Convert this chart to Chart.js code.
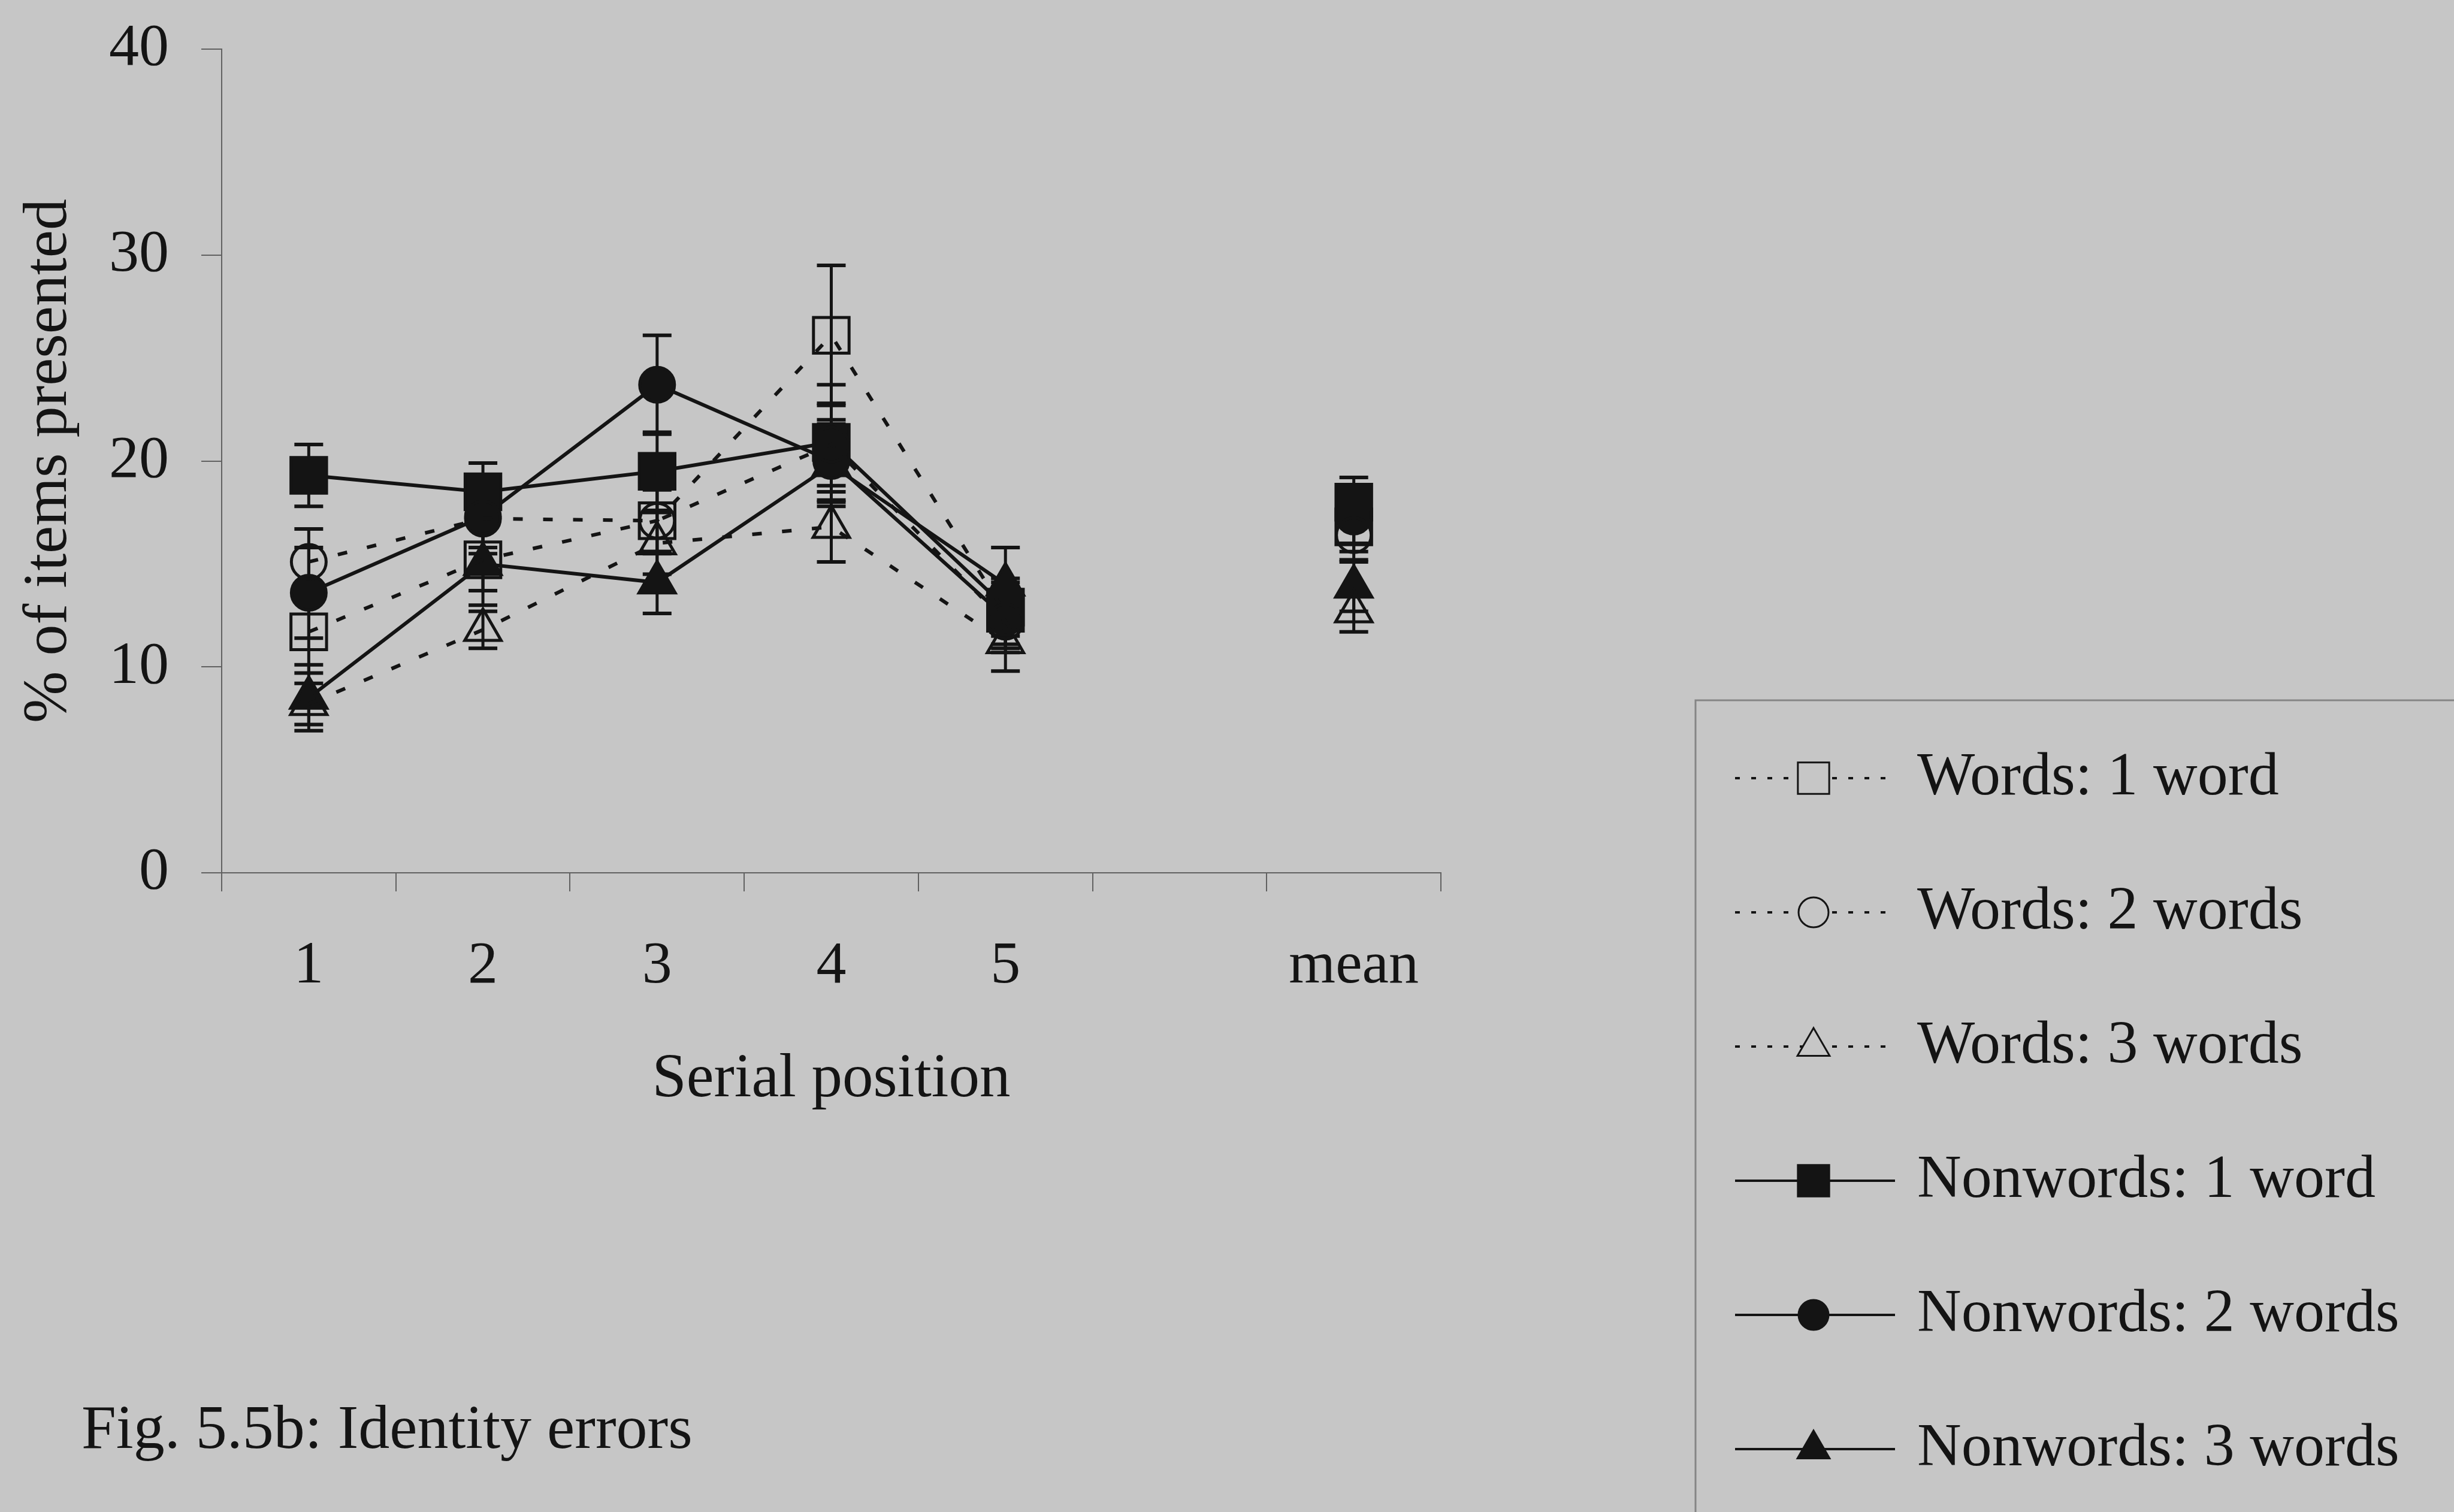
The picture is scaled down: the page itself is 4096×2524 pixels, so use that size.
<!DOCTYPE html>
<html>
<head>
<meta charset="utf-8">
<title>Identity errors</title>
<script src="https://cdn.jsdelivr.net/npm/chart.js@4.4.0/dist/chart.umd.min.js"></script>
<style>
  html, body { margin: 0; padding: 0; background: #c6c6c6; }
  #wrap { width: 4096px; height: 2524px; }
</style>
</head>
<body>
<div id="wrap"><canvas id="errorsChart" width="4096" height="2524"></canvas></div>
<script>
/* Fig. 5.5b – identity errors by serial position */

const positions = ["1", "2", "3", "4", "5", "", "mean"];
const yTicks = [0, 10, 20, 30, 40];

const words1 = [11.7, 15.2, 17.1, 26.1, 12.6, null, 16.8];
const words2 = [15.1, 17.2, 17.1, 20.8, 12.2, null, 16.4];
const words3 = [8.2, 11.8, 16.0, 16.8, 11.2, null, 12.7];
const nonwords1 = [19.3, 18.5, 19.5, 20.9, 12.9, null, 18.0];
const nonwords2 = [13.6, 17.3, 23.7, 20.0, 12.4, null, 17.3];
const nonwords3 = [8.5, 15.0, 14.1, 19.8, 14.0, null, 13.9];

const words1Err = [2.0, 1.5, 1.6, 3.4, 1.5, null, 1.2];
const words2Err = [1.6, 1.4, 1.5, 2.0, 1.5, null, 1.2];
const words3Err = [1.0, 0.9, 1.5, 1.7, 1.4, null, 1.0];
const nonwords1Err = [1.5, 1.4, 1.9, 2.8, 1.4, null, 1.2];
const nonwords2Err = [2.2, 1.8, 2.4, 2.0, 1.5, null, 1.3];
const nonwords3Err = [1.6, 2.0, 1.5, 2.0, 1.8, null, 1.2];

const ink = "#141414";
const axisGrey = "#616161";
const serif = "'Liberation Serif', 'Times New Roman', serif";

const series = (label, data, errors, pointStyle, radius, open) => ({
  label,
  data,
  errors,
  pointStyle,
  pointRadius: radius,
  pointHoverRadius: radius,
  pointBorderWidth: 5,
  pointBorderColor: ink,
  pointBackgroundColor: open ? "rgba(0,0,0,0)" : ink,
  borderColor: ink,
  borderWidth: 6,
  borderDash: open ? [16, 34] : [],
  tension: 0,
  spanGaps: false,
  fill: false,
  open,
});

// vertical error bars with caps, drawn under the markers
const errorBars = {
  id: "errorBars",
  beforeDatasetsDraw(chart) {
    const { ctx, scales: { x, y } } = chart;
    ctx.save();
    ctx.strokeStyle = ink;
    ctx.lineCap = "butt";
    chart.data.datasets.forEach((ds) => {
      ds.data.forEach((v, j) => {
        const e = ds.errors[j];
        if (v == null || e == null) return;
        const px = x.getPixelForValue(j);
        const top = y.getPixelForValue(v + e);
        const bot = y.getPixelForValue(v - e);
        ctx.lineWidth = 5;
        ctx.beginPath();
        ctx.moveTo(px, top);
        ctx.lineTo(px, bot);
        ctx.stroke();
        ctx.lineWidth = 6;
        ctx.beginPath();
        ctx.moveTo(px - 24, top);
        ctx.lineTo(px + 24, top);
        ctx.moveTo(px - 24, bot);
        ctx.lineTo(px + 24, bot);
        ctx.stroke();
      });
    });
    ctx.restore();
  },
};

// boxed legend at the lower right and the figure caption
const legendBox = {
  id: "legendBox",
  afterDraw(chart) {
    const { ctx } = chart;
    ctx.save();
    ctx.strokeStyle = "#858585";
    ctx.lineWidth = 3;
    ctx.strokeRect(2830, 1169, 1400, 1500);

    const rowY0 = 1299;
    const rowStep = 224;
    const markerSize = { rect: 37, circle: 25, triangle: 31 };
    chart.data.datasets.forEach((ds, i) => {
      const cy = rowY0 + i * rowStep;
      ctx.strokeStyle = ink;
      ctx.lineWidth = 4;
      ctx.setLineDash(ds.open ? [8, 19] : []);
      ctx.beginPath();
      ctx.moveTo(2896, cy);
      ctx.lineTo(3163, cy);
      ctx.stroke();
      ctx.setLineDash([]);

      ctx.fillStyle = ds.open ? "#c6c6c6" : ink;
      ctx.strokeStyle = ink;
      ctx.lineWidth = 3;
      Chart.helpers.drawPoint(ctx, {
        pointStyle: ds.pointStyle,
        radius: markerSize[ds.pointStyle],
        rotation: 0,
        borderWidth: 3,
      }, 3027, cy);

      ctx.fillStyle = ink;
      ctx.font = "102px " + serif;
      ctx.textAlign = "left";
      ctx.textBaseline = "middle";
      ctx.fillText(ds.label, 3200, cy);
    });

    ctx.fillStyle = ink;
    ctx.font = "104px " + serif;
    ctx.textAlign = "left";
    ctx.textBaseline = "middle";
    ctx.fillText("Fig. 5.5b: Identity errors", 136, 2390);
    ctx.restore();
  },
};

new Chart(document.getElementById("errorsChart"), {
  type: "line",
  data: {
    labels: positions,
    datasets: [
      series("Words: 1 word", words1, words1Err, "rect", 42, true),
      series("Words: 2 words", words2, words2Err, "circle", 29, true),
      series("Words: 3 words", words3, words3Err, "triangle", 35, true),
      series("Nonwords: 1 word", nonwords1, nonwords1Err, "rect", 42, false),
      series("Nonwords: 2 words", nonwords2, nonwords2Err, "circle", 29, false),
      series("Nonwords: 3 words", nonwords3, nonwords3Err, "triangle", 35, false),
    ],
  },
  options: {
    responsive: false,
    animation: false,
    events: [],
    layout: { padding: { left: 0, top: 82, right: 1691, bottom: 659 } },
    plugins: {
      legend: { display: false },
      tooltip: { enabled: false },
    },
    scales: {
      x: {
        type: "category",
        offset: true,
        grid: {
          offset: true,
          drawOnChartArea: false,
          drawTicks: true,
          tickLength: 31,
          color: axisGrey,
          lineWidth: 2,
        },
        border: { color: axisGrey, width: 2 },
        ticks: {
          color: ink,
          font: { family: serif, size: 100 },
          padding: 66,
          maxRotation: 0,
          autoSkip: false,
        },
        title: {
          display: true,
          text: "Serial position",
          color: ink,
          font: { family: serif, size: 103 },
          padding: 0,
        },
        afterFit(scale) {
          scale.height = 408;
        },
      },
      y: {
        min: 0,
        max: 40,
        afterBuildTicks(scale) {
          scale.ticks = yTicks.map((v) => ({ value: v }));
        },
        grid: {
          drawOnChartArea: false,
          tickLength: 34,
          color: axisGrey,
          lineWidth: 2,
        },
        border: { color: axisGrey, width: 2 },
        ticks: {
          color: ink,
          font: { family: serif, size: 100 },
          padding: 54,
        },
        title: {
          display: true,
          text: "% of items presented",
          color: ink,
          font: { family: serif, size: 104 },
          padding: { top: 20, bottom: 0 },
        },
        afterFit(scale) {
          scale.width = 370;
          // the "40" label may overhang the top edge; keep the plot height
          scale.paddingTop = 0;
          scale.paddingBottom = 0;
        },
      },
    },
  },
  plugins: [errorBars, legendBox],
});
</script>
</body>
</html>
